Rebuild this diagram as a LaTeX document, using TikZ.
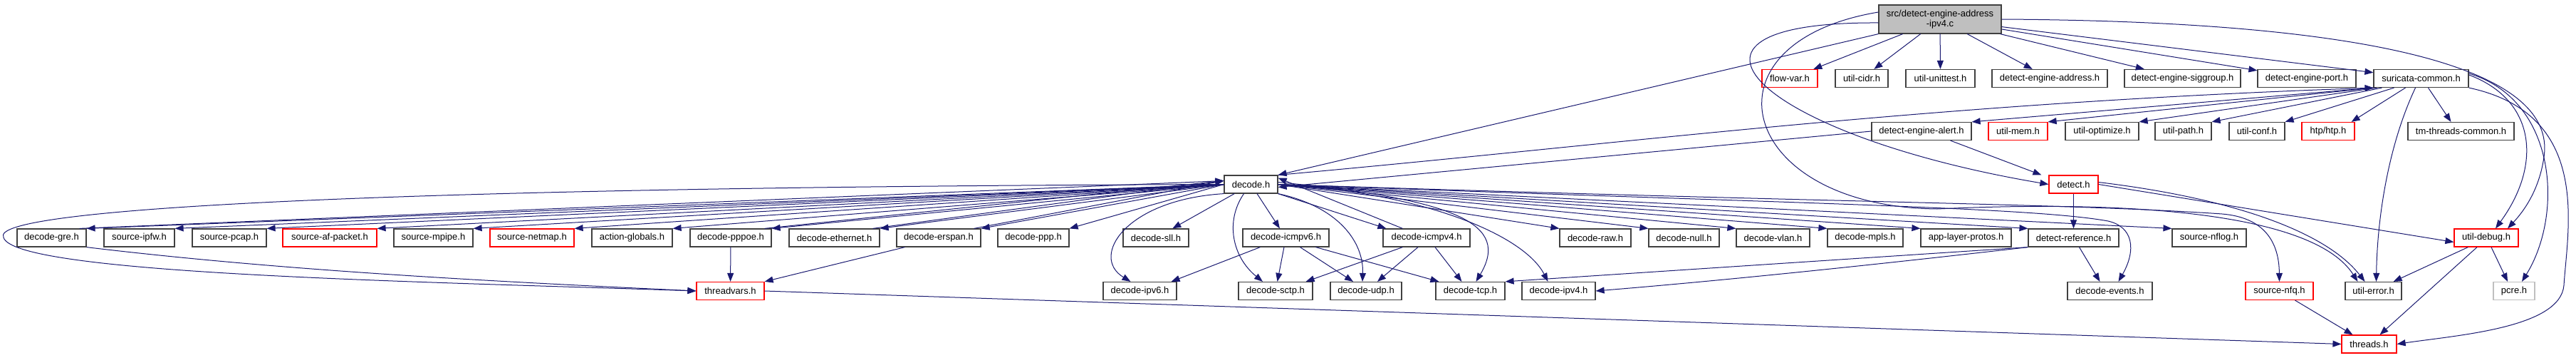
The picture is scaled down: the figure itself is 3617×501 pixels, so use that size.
\documentclass[tikz,border=0pt]{standalone}
\usepackage{fontspec}
\setmainfont{Liberation Sans}
\usepackage{xcolor}
\usetikzlibrary{arrows.meta,positioning}
\definecolor{edgeblue}{HTML}{191970}
\definecolor{boxgray}{HTML}{BFBFBF}
\tikzset{
  hdr/.style  ={draw=black!75,fill=white,line width=1.2pt,minimum height=25,inner sep=0pt,
                font=\fontsize{13}{14}\selectfont},
  hred/.style ={hdr,draw=red},
  hgray/.style={hdr,draw=boxgray},
  hmain/.style={hdr,fill=boxgray,align=center,minimum height=40},
  inc/.style  ={-{Triangle[length=12pt,width=9pt]},draw=edgeblue,line width=1pt},
}

\begin{document}
\begin{tikzpicture}[x=1pt,y=-1pt]
  \useasboundingbox (0,0) rectangle (3617,501);
  \node[hmain,minimum width=172] (main) at (2724,27) {src/detect-engine-address\\-ipv4.c};
  % row 1
  \node[hred,minimum width=78]  (flowvar)  at (2513,110)   {flow-var.h};
  \node[hdr,minimum width=74]   (cidr)     at (2614,110)   {util-cidr.h};
  \node[hdr,minimum width=97]   (unittest) at (2724.5,110) {util-unittest.h};
  \node[hdr,minimum width=162]  (deaddr)   at (2878,110)   {detect-engine-address.h};
  \node[hdr,minimum width=163]  (desig)    at (3064.5,110) {detect-engine-siggroup.h};
  \node[hdr,minimum width=138]  (deport)   at (3239,110)   {detect-engine-port.h};
  \node[hdr,minimum width=133]  (common)   at (3399.5,110) {suricata-common.h};
  % row 2
  \node[hdr,minimum width=140]  (dealert)  at (2698,184)   {detect-engine-alert.h};
  \node[hred,minimum width=83]  (umem)     at (2833.5,184) {util-mem.h};
  \node[hdr,minimum width=103]  (uopt)     at (2951.5,184) {util-optimize.h};
  \node[hdr,minimum width=79]   (upath)    at (3065.5,184) {util-path.h};
  \node[hdr,minimum width=78]   (uconf)    at (3169,184)   {util-conf.h};
  \node[hred,minimum width=74]  (htp)      at (3269,184)   {htp/htp.h};
  \node[hdr,minimum width=149]  (tmthr)    at (3455.5,184) {tm-threads-common.h};
  % row 3
  \node[hdr,minimum width=75]   (decode)   at (1756.5,258.5) {decode.h};
  \node[hred,minimum width=69]  (detect)   at (2911.5,258.5) {detect.h};
  % row 4
  \node[hdr,minimum width=97]   (gre)      at (72.5,333.5)   {decode-gre.h};
  \node[hdr,minimum width=99]   (ipfw)     at (195.5,333.5)  {source-ipfw.h};
  \node[hdr,minimum width=104]  (pcap)     at (322,333.5)    {source-pcap.h};
  \node[hred,minimum width=132] (afpkt)    at (463,333.5)    {source-af-packet.h};
  \node[hdr,minimum width=111]  (mpipe)    at (608.5,333.5)  {source-mpipe.h};
  \node[hred,minimum width=118] (netmap)   at (747,333.5)    {source-netmap.h};
  \node[hdr,minimum width=113]  (actglb)   at (887.5,333.5)  {action-globals.h};
  \node[hdr,minimum width=114]  (pppoe)    at (1026,333.5)   {decode-pppoe.h};
  \node[hdr,minimum width=127]  (ether)    at (1171.5,333.5) {decode-ethernet.h};
  \node[hdr,minimum width=118]  (erspan)   at (1318,333.5)   {decode-erspan.h};
  \node[hdr,minimum width=100]  (ppp)      at (1451,333.5)   {decode-ppp.h};
  \node[hdr,minimum width=92]   (sll)      at (1623,333.5)   {decode-sll.h};
  \node[hdr,minimum width=121]  (icmp6)    at (1805.5,333.5) {decode-icmpv6.h};
  \node[hdr,minimum width=122]  (icmp4)    at (2003,333.5)   {decode-icmpv4.h};
  \node[hdr,minimum width=100]  (raw)      at (2240,333.5)   {decode-raw.h};
  \node[hdr,minimum width=99]   (null)     at (2364.5,333.5) {decode-null.h};
  \node[hdr,minimum width=103]  (vlan)     at (2489.5,333.5) {decode-vlan.h};
  \node[hdr,minimum width=106]  (mpls)     at (2619,333.5)   {decode-mpls.h};
  \node[hdr,minimum width=127]  (alproto)  at (2760.5,333.5) {app-layer-protos.h};
  \node[hdr,minimum width=127]  (detref)   at (2911.5,333.5) {detect-reference.h};
  \node[hdr,minimum width=104]  (nflog)    at (3102,333.5)   {source-nflog.h};
  \node[hred,minimum width=90]  (udebug)   at (3491,333.5)   {util-debug.h};
  % row 5
  \node[hred,minimum width=95]  (tvars)    at (1025.5,408)   {threadvars.h};
  \node[hdr,minimum width=103]  (ipv6)     at (1600.5,408)   {decode-ipv6.h};
  \node[hdr,minimum width=104]  (sctp)     at (1791,408)     {decode-sctp.h};
  \node[hdr,minimum width=100]  (udp)      at (1918,408)     {decode-udp.h};
  \node[hdr,minimum width=97]   (tcp)      at (2064.5,408)   {decode-tcp.h};
  \node[hdr,minimum width=103]  (ipv4)     at (2188.5,408)   {decode-ipv4.h};
  \node[hdr,minimum width=119]  (events)   at (2962.5,408)   {decode-events.h};
  \node[hred,minimum width=95]  (nfq)      at (3200.5,408)   {source-nfq.h};
  \node[hdr,minimum width=79]   (uerror)   at (3332.5,408)   {util-error.h};
  \node[hgray,minimum width=58] (pcre)     at (3530,408)     {pcre.h};
  % row 6
  \node[hred,minimum width=77]  (threads)  at (3326.5,482.5) {threads.h};

  % main file
  \foreach \n in {flowvar,cidr,unittest,deaddr,desig,deport,common}
    \draw[inc] (main) -- (\n);
  \draw[inc] (main.south west) -- (decode.north east);
  \draw[inc] ([yshift=-5]main.west) .. controls (2300,30) and (2470,190) .. (detect.west);
  \draw[inc] ([yshift=10]main.west) .. controls (2380,60) and (2440,290) .. (2720,293)
             .. controls (3000,280) and (3250,300) .. ([xshift=-22]uerror.north);
  \draw[inc] (main.east) .. controls (3350,30) and (3590,100) .. (3572,220)
             .. controls (3565,270) and (3540,300) .. ([xshift=30]udebug.north);

  % suricata-common.h
  \foreach \n in {dealert,umem}
    \draw[inc] (common.south west) -- (\n.north east);
  \draw[inc] ([xshift=5]common.south west) -- (uopt.north east);
  \draw[inc] ([xshift=12]common.south west) -- (upath.north east);
  \draw[inc] ([xshift=-38]common.south) -- (uconf.north east);
  \draw[inc] ([xshift=-22]common.south) -- ([xshift=-5]htp.north east);
  \draw[inc] ([xshift=10]common.south) -- ([xshift=-14]tmthr.north);
  \draw[inc] ([xshift=-8]common.south) .. controls (3355,200) and (3338,300) .. ([xshift=4]uerror.north);
  \draw[inc] ([yshift=5]common.east) .. controls (3560,140) and (3570,230) .. ([xshift=13]udebug.north);
  \draw[inc] ([yshift=7]common.east) .. controls (3590,140) and (3600,300) .. ([xshift=11]pcre.north);
  \draw[inc] (common.south east) .. controls (3640,160) and (3605,320) .. (3600,400)
             .. controls (3595,460) and (3450,470) .. (threads.east);

  % detect-engine-alert.h and detect.h
  \draw[inc] (dealert.west) -- ([yshift=-4]decode.east);
  \draw[inc] ([xshift=-30]dealert.south east) -- ([xshift=-10]detect.north west);
  \draw[inc] (detect) -- (detref);
  \draw[inc] (detect.east) -- ([yshift=-6]udebug.west);
  \draw[inc] ([yshift=3]detect.east) .. controls (3150,280) and (3270,330) .. ([xshift=-12]uerror.north);

  % decode.h
  \draw[inc] (decode.north east) .. controls (2300,200) and (2700,145) .. (common.south west);
  \foreach \n in {gre,ipfw,pcap,afpkt,mpipe,netmap,actglb,pppoe,ether,erspan,ppp}
    \draw[inc] (decode.west) -- (\n.north east);
  \foreach \n in {gre,pppoe,ether,erspan}
    \draw[inc] ([xshift=-10]\n.north east) -- ([yshift=5]decode.west);
  \foreach \n in {raw,null,vlan,mpls,alproto,detref,nflog}
    \draw[inc] (decode.east) -- (\n.north west);
  \draw[inc] (decode) -- (sll);
  \draw[inc] (decode) -- (icmp6);
  \draw[inc] (decode.south east) -- ([xshift=5]icmp4.north west);
  \draw[inc] ([xshift=28]icmp4.north west) -- ([yshift=9]decode.east);
  \draw[inc] (decode.south west) .. controls (1580,280) and (1530,360) .. ([xshift=-13]ipv6.north);
  \draw[inc] ([xshift=-10]decode.south) .. controls (1720,310) and (1730,360) .. ([xshift=-18]sctp.north);
  \draw[inc] (decode.south east) .. controls (1880,290) and (1915,340) .. ([xshift=-5]udp.north);
  \draw[inc] ([yshift=3]decode.east) .. controls (2050,280) and (2120,315) .. ([xshift=8]tcp.north);
  \draw[inc] (decode.east) .. controls (2000,270) and (2140,330) .. ([xshift=-15]ipv4.north);
  \draw[inc] (decode.east) .. controls (2500,285) and (2850,290) .. (2960,310)
             .. controls (2995,318) and (3000,350) .. ([xshift=12]events.north);
  \draw[inc] (decode.east) .. controls (2600,285) and (2900,285) .. (3120,300)
             .. controls (3180,305) and (3200,340) .. (nfq.north);
  \draw[inc] (decode.west) .. controls (600,262) and (-20,290) .. (5,333)
             .. controls (20,385) and (600,395) .. (tvars.west);

  % lower rows
  \draw[inc] (gre.south east) .. controls (400,380) and (700,395) .. (tvars.west);
  \draw[inc] (pppoe) -- (tvars);
  \draw[inc] ([xshift=12]erspan.south west) -- (tvars.north east);
  \draw[inc] (tvars.east) -- (threads.west);
  \draw[inc] ([xshift=25]icmp6.south west) -- ([xshift=-8]ipv6.north east);
  \draw[inc] (icmp6) -- (sctp);
  \draw[inc] ([xshift=20]icmp6.south) -- ([xshift=-18]udp.north);
  \draw[inc] ([xshift=42]icmp6.south) -- ([xshift=5]tcp.north west);
  \draw[inc] ([xshift=28]icmp4.south west) -- ([xshift=-10]sctp.north east);
  \draw[inc] ([xshift=-12]icmp4.south) -- ([xshift=16]udp.north);
  \draw[inc] ([xshift=12]icmp4.south) -- ([xshift=-12]tcp.north);
  \draw[inc] ([xshift=8]detref.south) -- ([xshift=-14]events.north);
  \draw[inc] (detref.south west) -- (tcp.north east);
  \draw[inc] (detref.south west) .. controls (2600,375) and (2400,395) .. (ipv4.east);
  \draw[inc] ([xshift=20]udebug.south west) -- ([xshift=-12]uerror.north east);
  \draw[inc] ([xshift=-13]udebug.south) -- ([xshift=15]threads.north);
  \draw[inc] ([xshift=7]udebug.south) -- ([xshift=-9]pcre.north);
  \draw[inc] ([xshift=22]nfq.south) -- ([xshift=-23]threads.north);
\end{tikzpicture}
\end{document}
